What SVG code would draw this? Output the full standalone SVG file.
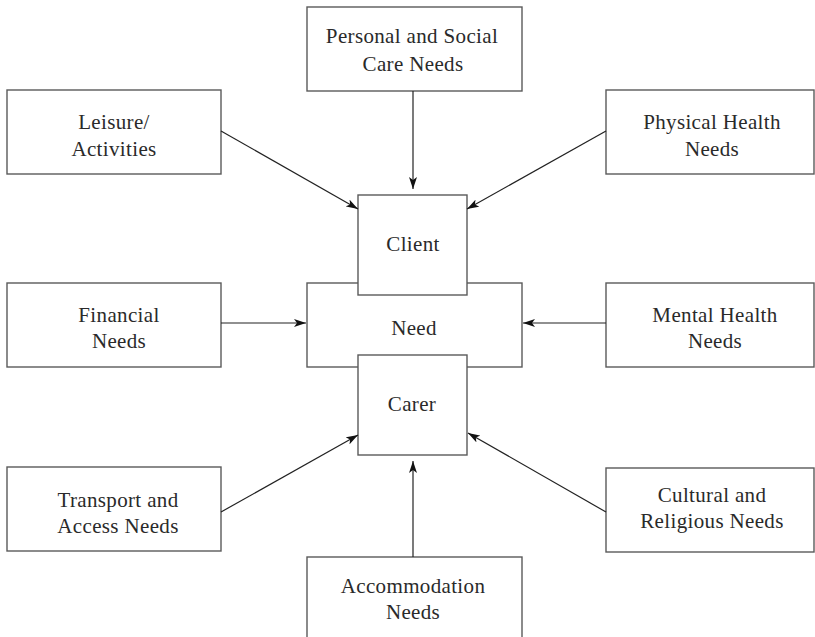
<svg xmlns="http://www.w3.org/2000/svg" width="815" height="637" viewBox="0 0 815 637">
<style>
.box{fill:#fff;stroke:#5a5a5a;stroke-width:1.4}
.t{font-family:"Liberation Serif","DejaVu Serif",serif;font-size:21px;letter-spacing:0.35px;fill:#2a2a2a;text-anchor:middle}
.c{stroke:#222;stroke-width:1.2;fill:none;marker-end:url(#ah)}
</style>
<defs>
<marker id="ah" viewBox="0 0 12 8" refX="12" refY="4" markerWidth="12" markerHeight="8" markerUnits="userSpaceOnUse" orient="auto">
<path d="M0,0 L12,4 L0,8 L3,4 Z" fill="#111"/>
</marker>
</defs>
<rect width="815" height="637" fill="#fff"/>
<g id="need"><rect class="box" x="307" y="283" width="215" height="84"/><text class="t" x="414" y="335">Need</text></g>
<g id="client"><rect class="box" x="358" y="195" width="109" height="100"/><text class="t" x="413" y="251">Client</text></g>
<g id="carer"><rect class="box" x="358" y="355" width="109" height="100"/><text class="t" x="412" y="411">Carer</text></g>
<g id="personal"><rect class="box" x="307" y="7" width="215" height="84"/><text class="t" x="412" y="43">Personal and Social</text><text class="t" x="413" y="71">Care Needs</text></g>
<g id="leisure"><rect class="box" x="7" y="90" width="214" height="84"/><text class="t" x="114" y="129">Leisure/</text><text class="t" x="114" y="156">Activities</text></g>
<g id="physical"><rect class="box" x="606" y="90" width="208" height="84"/><text class="t" x="712" y="129">Physical Health</text><text class="t" x="712" y="156">Needs</text></g>
<g id="financial"><rect class="box" x="7" y="283" width="214" height="84"/><text class="t" x="119" y="322">Financial</text><text class="t" x="119" y="348">Needs</text></g>
<g id="mental"><rect class="box" x="606" y="283" width="208" height="84"/><text class="t" x="715" y="322">Mental Health</text><text class="t" x="715" y="348">Needs</text></g>
<g id="transport"><rect class="box" x="7" y="467" width="214" height="84"/><text class="t" x="118" y="507">Transport and</text><text class="t" x="118" y="533">Access Needs</text></g>
<g id="cultural"><rect class="box" x="606" y="468" width="208" height="84"/><text class="t" x="712" y="502">Cultural and</text><text class="t" x="712" y="528">Religious Needs</text></g>
<g id="accommodation"><rect class="box" x="307" y="557" width="215" height="90"/><text class="t" x="413" y="593">Accommodation</text><text class="t" x="413" y="619">Needs</text></g>
<g id="connectors">
<line class="c" x1="413" y1="91" x2="413" y2="189"/>
<line class="c" x1="221" y1="131" x2="358" y2="209"/>
<line class="c" x1="606" y1="131" x2="467" y2="209"/>
<line class="c" x1="221" y1="323" x2="306" y2="323"/>
<line class="c" x1="606" y1="323" x2="523" y2="323"/>
<line class="c" x1="221" y1="512" x2="358" y2="435"/>
<line class="c" x1="606" y1="512" x2="468" y2="433"/>
<line class="c" x1="413" y1="557" x2="413" y2="461"/>
</g>
</svg>
